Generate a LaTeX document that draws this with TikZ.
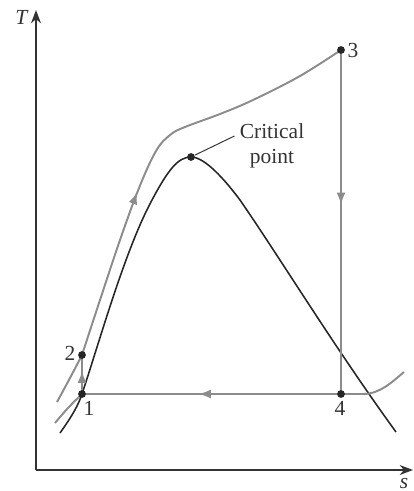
\documentclass[tikz,border=0pt]{standalone}
\usepackage{fontspec}
\setmainfont{Liberation Serif}
\usetikzlibrary{arrows.meta, calc, positioning, decorations.markings}
\tikzset{
    axis/.style={black!80, line width=0.8pt},
    dome/.style={black!85, line width=0.8pt},
    process/.style={black!45, line width=1pt},
    statedot/.style={circle, fill=black!85, inner sep=0pt, minimum size=4pt},
    statelabel/.style={font=\fontsize{11}{13}\selectfont, text=black!80, inner sep=1pt},
    midarrow/.style={postaction={decorate}, decoration={markings,
        mark=at position #1 with {\arrow{Latex[length=2.2mm, width=1.6mm]}}}},
}

\begin{document}
\begin{tikzpicture}[x=0.018cm, y=-0.018cm]
    \useasboundingbox (0,0) rectangle (414,491);
    % axes
    \coordinate (o) at (36,470);
    \coordinate (tend) at (36,10);
    \coordinate (send) at (413,470);
    \draw[axis, -{Stealth[length=2.4mm, width=1.8mm]}] (o) -- (tend);
    \draw[axis, -{Stealth[length=2.4mm, width=1.8mm]}] (o) -- (send);
    \node[statelabel] (tlab) at (22,17) {\textit{T}};
    \node[statelabel] (slab) at (404,484) {\textit{s}};

    % states
    \coordinate (p1) at (82,394);
    \coordinate (p2) at (82,355);
    \coordinate (p3) at (341,50);
    \coordinate (p4) at (341,394);
    \coordinate (cp) at (191,157);
    \coordinate (satv) at (363,394);

    % saturation dome
    \draw[dome] (60,433) .. controls (72,416) and (78,406) .. (p1)
        .. controls (100,340) and (125,250) .. (152,200)
        .. controls (168,170) and (178,157) .. (cp)
        .. controls (205,157) and (225,180) .. (240,200)
        .. controls (280,258) and (335,348) .. (396,432);

    % isobars
    \draw[process] plot[smooth, tension=0.6] coordinates {(57,402) (70,378) (p2)};
    \draw[process, midarrow=0.4] plot[smooth, tension=0.6] coordinates {(p2) (100,300)
        (120,240) (139,188) (156,151) (170,135) (185,127) (220,114) (253,100) (300,76) (p3)};
    \draw[process] plot[smooth, tension=0.6] coordinates {(55,423) (68,408) (p1)};
    \draw[process] (p4) -- (satv) .. controls (380,394) and (392,382) .. (404,372);

    % cycle
    \draw[process, midarrow=0.6] (p1) -- (p2);
    \draw[process, midarrow=0.45] (p3) -- (p4);
    \draw[process, midarrow=0.55] (p4) -- (p1);

    % dots and labels
    \foreach \s in {p1, p2, p3, p4, cp}
        \node[statedot] (dot-\s) at (\s) {};
    \node[statelabel] (l1) at (89,408) {1};
    \node[statelabel] (l2) at (70,353) {2};
    \node[statelabel] (l3) at (353,50) {3};
    \node[statelabel] (l4) at (340,408) {4};
    \node[statelabel, align=center] (cplab) at (272,146) {Critical\\point};
    \draw[black!80, line width=0.5pt] (dot-cp) -- ($(cplab.west)+(-3,-10)$);
\end{tikzpicture}
\end{document}
